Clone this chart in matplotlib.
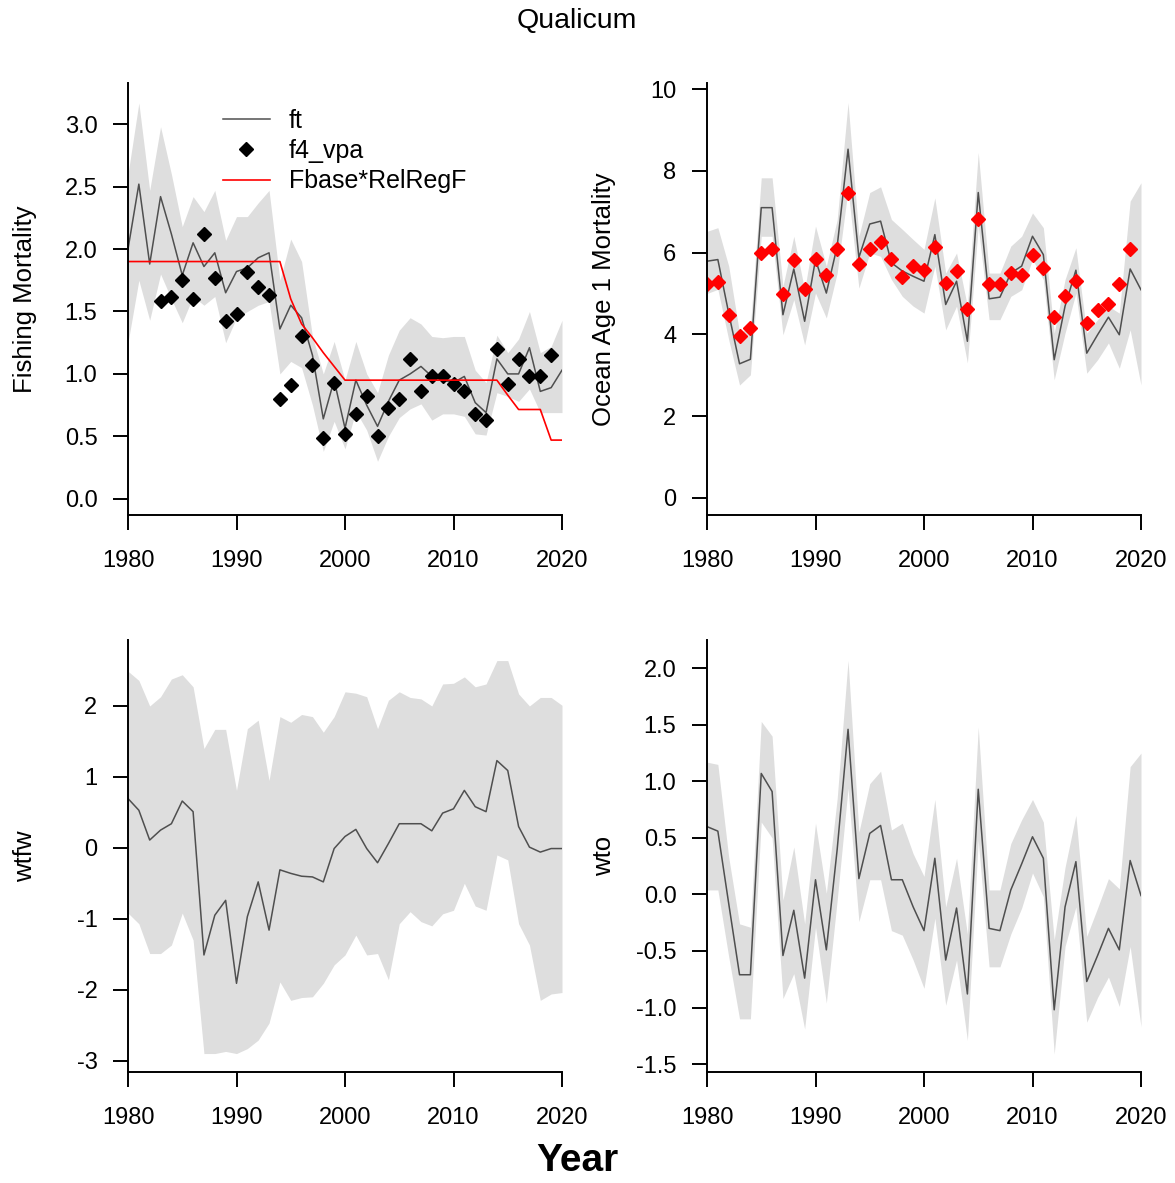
import numpy as np
import matplotlib
matplotlib.use('Agg')
import matplotlib.pyplot as plt

plt.rcParams['font.family'] = ['Liberation Sans', 'DejaVu Sans']
plt.rcParams['axes.unicode_minus'] = False

years = np.arange(1980, 2021)

# panel 1 - fishing mortality
ft = [2.00, 2.52, 1.88, 2.42, 2.12, 1.79, 2.05, 1.86, 1.97, 1.65,
      1.82, 1.85, 1.93, 1.97, 1.36, 1.55, 1.45, 1.15, 0.64, 0.95,
      0.565, 0.95, 0.75, 0.58, 0.78, 0.95, 1.00, 1.06, 0.98, 0.95,
      0.93, 0.98, 0.77, 0.69, 1.12, 1.00, 1.00, 1.21, 0.86, 0.89, 1.03]
ft_hi = [2.60, 3.17, 2.47, 2.98, 2.60, 2.18, 2.42, 2.30, 2.47, 2.07,
         2.26, 2.26, 2.37, 2.47, 1.75, 2.08, 1.90, 1.30, 1.00, 1.26,
         0.95, 1.26, 1.00, 0.85, 1.15, 1.35, 1.45, 1.40, 1.30, 1.29,
         1.30, 1.30, 1.03, 0.93, 1.31, 1.17, 1.28, 1.50, 1.17, 1.22, 1.43]
ft_lo = [1.25, 1.75, 1.43, 1.80, 1.60, 1.41, 1.62, 1.55, 1.62, 1.25,
         1.45, 1.50, 1.55, 1.58, 1.00, 1.10, 1.05, 0.75, 0.38, 0.62,
         0.40, 0.70, 0.55, 0.30, 0.50, 0.65, 0.72, 0.76, 0.63, 0.68,
         0.68, 0.66, 0.52, 0.51, 0.85, 0.82, 0.78, 0.88, 0.69, 0.69, 0.69]
vpa_years = np.arange(1983, 2020)
f4_vpa = [1.58, 1.62, 1.75, 1.60, 2.12, 1.77, 1.42, 1.48, 1.82, 1.70,
          1.63, 0.80, 0.91, 1.30, 1.07, 0.49, 0.93, 0.52, 0.68, 0.82,
          0.50, 0.73, 0.80, 1.12, 0.86, 0.98, 0.98, 0.92, 0.86, 0.68,
          0.63, 1.20, 0.92, 1.12, 0.98, 0.98, 1.15]
fbase_relreg = [1.90, 1.90, 1.90, 1.90, 1.90, 1.90, 1.90, 1.90, 1.90, 1.90,
                1.90, 1.90, 1.90, 1.90, 1.90, 1.60, 1.40, 1.29, 1.17, 1.06,
                0.95, 0.95, 0.95, 0.95, 0.95, 0.95, 0.95, 0.95, 0.95, 0.95,
                0.95, 0.95, 0.95, 0.95, 0.95, 0.83, 0.715, 0.715, 0.715, 0.47, 0.47]

# panel 2 - ocean age 1 mortality
om_years = np.arange(1980, 2020)
om_obs = [5.23, 5.28, 4.48, 3.97, 4.15, 5.99, 6.10, 4.99, 5.81, 5.12,
          5.85, 5.45, 6.09, 7.47, 5.72, 6.09, 6.26, 5.85, 5.40, 5.68,
          5.58, 6.13, 5.26, 5.54, 4.62, 6.83, 5.22, 5.22, 5.49, 5.44,
          5.95, 5.63, 4.42, 4.93, 5.31, 4.29, 4.59, 4.75, 5.22, 6.09]
om = [5.79, 5.83, 4.52, 3.28, 3.39, 7.10, 7.10, 4.48, 5.60, 4.32,
      5.83, 5.01, 6.16, 8.53, 5.88, 6.70, 6.77, 5.75, 5.55, 5.42,
      5.30, 6.44, 4.73, 5.30, 3.83, 7.47, 4.87, 4.91, 5.50, 5.67,
      6.40, 5.95, 3.38, 4.69, 5.57, 3.54, 3.99, 4.42, 3.99, 5.60, 5.09]
om_hi = [6.52, 6.61, 5.67, 4.03, 4.19, 7.83, 7.83, 5.18, 6.40, 5.09,
         6.65, 5.67, 6.81, 9.67, 6.40, 7.47, 7.61, 6.81, 6.57, 6.32,
         6.08, 7.34, 5.50, 5.99, 4.69, 8.45, 5.50, 5.50, 6.16, 6.40,
         6.97, 6.61, 4.03, 5.34, 6.12, 4.03, 4.36, 4.69, 4.52, 7.26, 7.71]
om_lo = [5.00, 5.10, 3.87, 2.76, 3.01, 6.40, 6.40, 3.99, 4.85, 3.74,
         5.01, 4.40, 5.50, 7.55, 5.13, 5.99, 5.91, 5.34, 4.93, 4.69,
         4.52, 5.67, 4.11, 4.69, 3.30, 6.65, 4.36, 4.36, 4.93, 5.09,
         5.83, 5.34, 2.89, 4.03, 5.01, 3.05, 3.38, 3.79, 3.17, 4.11, 2.76]

# panel 3 - wtfw
wtfw = [0.695, 0.53, 0.11, 0.25, 0.34, 0.66, 0.51, -1.51, -0.95, -0.74,
        -1.91, -0.97, -0.48, -1.16, -0.31, -0.36, -0.40, -0.41, -0.48, -0.01,
        0.16, 0.26, -0.01, -0.21, 0.06, 0.34, 0.34, 0.34, 0.24, 0.49,
        0.55, 0.81, 0.58, 0.51, 1.23, 1.09, 0.30, 0.01, -0.06, -0.01, -0.01]
wtfw_hi = [2.49, 2.36, 2.00, 2.13, 2.38, 2.44, 2.27, 1.40, 1.67, 1.67,
           0.81, 1.68, 1.80, 0.95, 1.85, 1.77, 1.88, 1.85, 1.63, 1.85,
           2.20, 2.18, 2.13, 1.68, 2.08, 2.20, 2.12, 2.10, 2.00, 2.31,
           2.32, 2.41, 2.27, 2.31, 2.64, 2.64, 2.17, 2.00, 2.12, 2.12, 2.01]
wtfw_lo = [-0.92, -1.07, -1.49, -1.49, -1.37, -0.92, -1.30, -2.90, -2.90, -2.87,
           -2.90, -2.83, -2.71, -2.47, -1.89, -2.15, -2.11, -2.10, -1.91, -1.65,
           -1.51, -1.23, -1.51, -1.49, -1.86, -1.07, -0.90, -1.04, -1.10, -0.93,
           -0.88, -0.50, -0.82, -0.88, -0.10, -0.17, -1.07, -1.37, -2.15, -2.06, -2.04]

# panel 4 - wto
wto = [0.60, 0.56, -0.08, -0.71, -0.71, 1.07, 0.91, -0.54, -0.14, -0.74,
       0.13, -0.49, 0.40, 1.46, 0.14, 0.54, 0.61, 0.13, 0.13, -0.11,
       -0.32, 0.32, -0.58, -0.12, -0.88, 0.93, -0.30, -0.32, 0.04, 0.27,
       0.51, 0.32, -1.02, -0.11, 0.29, -0.77, -0.54, -0.30, -0.49, 0.30, -0.01]
wto_hi = [1.17, 1.15, 0.33, -0.26, -0.29, 1.53, 1.40, -0.05, 0.42, -0.26,
          0.63, 0.01, 0.85, 2.07, 0.55, 0.98, 1.09, 0.57, 0.63, 0.36,
          0.16, 0.84, -0.11, 0.32, -0.35, 1.48, 0.04, 0.04, 0.45, 0.66,
          0.84, 0.64, -0.40, 0.24, 0.70, -0.37, -0.12, 0.14, 0.05, 1.13, 1.25]
wto_lo = [0.04, 0.04, -0.55, -1.10, -1.10, 0.64, 0.50, -0.92, -0.70, -1.19,
          -0.29, -0.96, -0.05, 0.94, -0.24, 0.13, 0.13, -0.32, -0.36, -0.58,
          -0.83, -0.21, -0.98, -0.58, -1.29, 0.48, -0.64, -0.64, -0.35, -0.12,
          0.19, -0.02, -1.41, -0.46, -0.11, -1.13, -0.91, -0.73, -0.99, -0.46, -1.17]

W, H = 1175, 1183
fig = plt.figure(figsize=(W / 100, H / 100), dpi=100)
band_col = '#dedede'
line_col = '#4f4f4f'


def panel(x0, y0, x1, y1, ylim, yticks, fmt):
    ax = fig.add_axes([x0 / W, 1 - y1 / H, (x1 - x0) / W, (y1 - y0) / H])
    ax.set_xlim(1980, 2020)
    ax.set_ylim(*ylim)
    ax.set_xticks([1980, 1990, 2000, 2010, 2020])
    ax.set_yticks(yticks)
    ax.set_yticklabels([fmt.format(v) for v in yticks])
    for s in ['top', 'right']:
        ax.spines[s].set_visible(False)
    for s in ['left', 'bottom']:
        ax.spines[s].set_linewidth(1.4)
    ax.tick_params(direction='out', length=11, width=1.4, labelsize=17)
    ax.tick_params(axis='x', pad=14)
    ax.tick_params(axis='y', pad=11)
    return ax


# top left
ax1 = panel(128, 83, 562, 515, (-0.13, 3.33), [0.0, 0.5, 1.0, 1.5, 2.0, 2.5, 3.0], '{:.1f}')
ax1.fill_between(years, ft_lo, ft_hi, color=band_col, lw=0)
l1, = ax1.plot(years, ft, color=line_col, lw=1.1)
p1, = ax1.plot(vpa_years, f4_vpa, 'D', color='black', ms=7.5, ls='none')
r1, = ax1.plot(years, fbase_relreg, color='red', lw=1.2)
ax1.legend([l1, p1, r1], ['ft', 'f4_vpa', 'Fbase*RelRegF'], frameon=False,
           loc='upper left', bbox_to_anchor=(0.218, 0.94), fontsize=18,
           handlelength=1.9, handletextpad=0.75, labelspacing=0.25, borderpad=0,
           borderaxespad=0)

# top right
ax2 = panel(707, 83, 1141, 515, (-0.42, 10.15), [0, 2, 4, 6, 8, 10], '{:d}')
ax2.fill_between(years, om_lo, om_hi, color=band_col, lw=0)
ax2.plot(years, om, color=line_col, lw=1.1)
ax2.plot(om_years, om_obs, 'D', color='red', ms=7.5, ls='none')

# bottom left
ax3 = panel(128, 640, 562, 1072, (-3.16, 2.93), [-3, -2, -1, 0, 1, 2], '{:d}')
ax3.fill_between(years, wtfw_lo, wtfw_hi, color=band_col, lw=0)
ax3.plot(years, wtfw, color=line_col, lw=1.1)

# bottom right
ax4 = panel(707, 640, 1141, 1072, (-1.57, 2.25), [-1.5, -1.0, -0.5, 0.0, 0.5, 1.0, 1.5, 2.0], '{:.1f}')
ax4.fill_between(years, wto_lo, wto_hi, color=band_col, lw=0)
ax4.plot(years, wto, color=line_col, lw=1.1)

fig.text(25 / W, 1 - 299 / H, 'Fishing Mortality', rotation=90, ha='center', va='center', fontsize=18.5)
fig.text(604 / W, 1 - 299 / H, 'Ocean Age 1 Mortality', rotation=90, ha='center', va='center', fontsize=18.5)
fig.text(25 / W, 1 - 856 / H, 'wtfw', rotation=90, ha='center', va='center', fontsize=18.5)
fig.text(604 / W, 1 - 856 / H, 'wto', rotation=90, ha='center', va='center', fontsize=18.5)

fig.text(577 / W, 1 - 21 / H, 'Qualicum', ha='center', va='center', fontsize=20.5)
fig.text(577 / W, 1 - 1161 / H, 'Year', ha='center', va='center', fontsize=28, fontweight='bold')

fig.savefig('out.png', dpi=100)
